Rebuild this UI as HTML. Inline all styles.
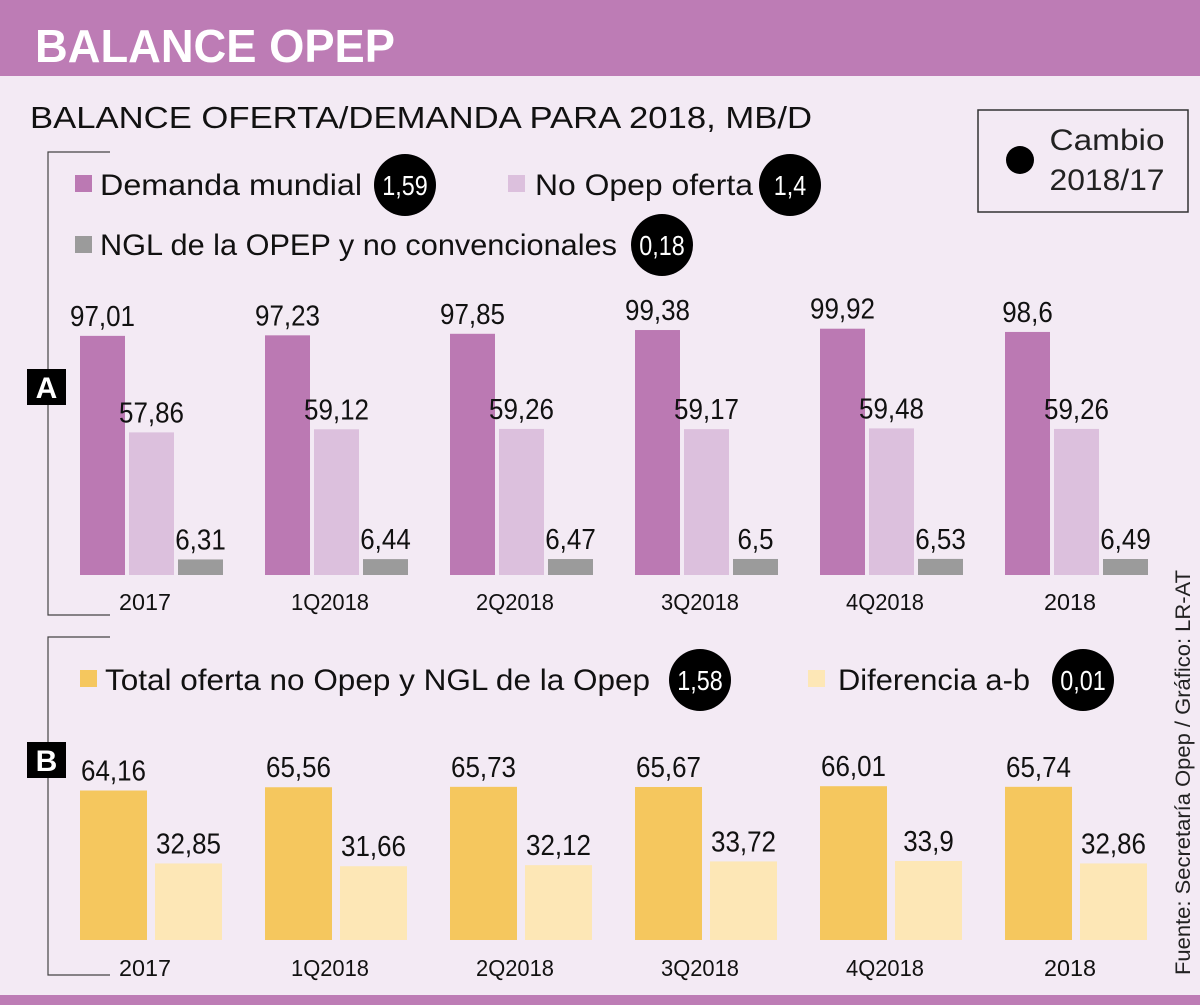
<!DOCTYPE html>
<html><head><meta charset="utf-8">
<style>
body{margin:0;width:1200px;height:1005px;background:#f3eaf4;overflow:hidden;font-family:"Liberation Sans Narrow","Liberation Sans",sans-serif;}
svg{display:block}
</style></head>
<body>
<svg width="1200" height="1005" viewBox="0 0 1200 1005" xmlns="http://www.w3.org/2000/svg" font-family="'Liberation Sans Narrow','Liberation Sans',sans-serif">
<rect x="0" y="0" width="1200" height="1005" fill="#f3eaf4"/>
<rect x="0" y="0" width="1200" height="76" fill="#bd7cb5"/>
<text x="35" y="62" font-size="46" font-weight="bold" fill="#fff" font-family="'Liberation Sans',sans-serif" textLength="360" lengthAdjust="spacingAndGlyphs">BALANCE OPEP</text>
<rect x="0" y="995" width="1200" height="10" fill="#bd7cb5"/>
<text x="30" y="128" font-size="31" fill="#111" textLength="782" lengthAdjust="spacingAndGlyphs">BALANCE OFERTA/DEMANDA PARA 2018, MB/D</text>
<g>
<rect x="978" y="110" width="210" height="102" fill="none" stroke="#333" stroke-width="1.5"/>
<circle cx="1020" cy="160" r="14" fill="#000"/>
<text x="1107" y="150" font-size="30" text-anchor="middle" fill="#222" textLength="115" lengthAdjust="spacingAndGlyphs">Cambio</text>
<text x="1107" y="190" font-size="30" text-anchor="middle" fill="#222" textLength="115" lengthAdjust="spacingAndGlyphs">2018/17</text>
</g>
<g stroke="#444" stroke-width="1.2" fill="none">
<path d="M110 152 H48 V615 H110"/>
<path d="M110 637 H48 V975 H110"/>
</g>
<g><rect x="27" y="369" width="39" height="36" fill="#000"/><text x="46.5" y="398" font-size="30" font-weight="bold" fill="#fff" text-anchor="middle" font-family="'Liberation Sans',sans-serif">A</text></g>
<g><rect x="27" y="742" width="39" height="36" fill="#000"/><text x="46.5" y="771" font-size="30" font-weight="bold" fill="#fff" text-anchor="middle" font-family="'Liberation Sans',sans-serif">B</text></g>
<text transform="translate(1190,975) rotate(-90)" font-size="21" fill="#222" textLength="405" lengthAdjust="spacingAndGlyphs">Fuente: Secretaría Opep / Gráfico: LR-AT</text>
<g id="legend"></g>
<g id="chartA"></g>
<g id="chartB"></g>
</svg>
<script>
const categories=["2017","1Q2018","2Q2018","3Q2018","4Q2018","2018"];
const demanda=[97.01,97.23,97.85,99.38,99.92,98.6];
const noOpep=[57.86,59.12,59.26,59.17,59.48,59.26];
const ngl=[6.31,6.44,6.47,6.5,6.53,6.49];
const totalOferta=[64.16,65.56,65.73,65.67,66.01,65.74];
const diferencia=[32.85,31.66,32.12,33.72,33.9,32.86];
const changes=["1,59","1,4","0,18","1,58","0,01"];
const NS="http://www.w3.org/2000/svg";
function mk(tag,attrs,parent){const e=document.createElementNS(NS,tag);for(const k in attrs)e.setAttribute(k,attrs[k]);parent.appendChild(e);return e;}
function fmt(v){return String(v).replace('.',',');}
function numW(s){let w=0;for(const ch of s)w+=(ch===','?7:14.5);return w;}
const groupX=i=>80+i*185;
const yA=v=>575-v*2.465;
const yB=v=>940-v*2.33;
const gA=document.getElementById('chartA'),gB=document.getElementById('chartB'),gL=document.getElementById('legend');
function bar(parent,name,x,w,top,base,fill,val){
  const r=mk('rect',{x:x,y:top,width:w,height:base-top,fill:fill},parent);
  
  
  const s=fmt(val);
  const t=mk('text',{x:x+w/2,y:top-10,'font-size':29,'text-anchor':'middle',fill:'#111',textLength:numW(s),lengthAdjust:'spacingAndGlyphs'},parent);
  t.textContent=s;
  
  
}
categories.forEach((c,i)=>{
  const x=groupX(i);
  bar(gA,'bar-demanda-'+c,x,45,yA(demanda[i]),575,'#bb79b3',demanda[i]);
  bar(gA,'bar-no-opep-'+c,x+49,45,yA(noOpep[i]),575,'#dcc0dd',noOpep[i]);
  bar(gA,'bar-ngl-'+c,x+98,45,yA(ngl[i]),575,'#9b9b9b',ngl[i]);
  const ta=mk('text',{x:x+65,y:610,'font-size':23,'text-anchor':'middle',fill:'#111',textLength:c.length*13,lengthAdjust:'spacingAndGlyphs'},gA);
  ta.textContent=c;
  
  
  bar(gB,'bar-total-oferta-'+c,x,67,yB(totalOferta[i]),940,'#f5c75e',totalOferta[i]);
  bar(gB,'bar-diferencia-'+c,x+75,67,yB(diferencia[i]),940,'#fde7b6',diferencia[i]);
  const tb=mk('text',{x:x+65,y:976,'font-size':23,'text-anchor':'middle',fill:'#111',textLength:c.length*13,lengthAdjust:'spacingAndGlyphs'},gB);
  tb.textContent=c;
  
  
});
const legendItems=[
 {n:'demanda',sx:75,sy:175,tx:100,ty:195,w:262,label:'Demanda mundial',fill:'#bb79b3',cx:405,cy:185,ch:changes[0]},
 {n:'no-opep',sx:508,sy:175,tx:535,ty:195,w:218,label:'No Opep oferta',fill:'#dcc0dd',cx:790,cy:185,ch:changes[1]},
 {n:'ngl',sx:75,sy:236,tx:100,ty:255,w:517,label:'NGL de la OPEP y no convencionales',fill:'#9b9b9b',cx:662,cy:245,ch:changes[2]},
 {n:'total-oferta',sx:80,sy:670,tx:105,ty:690,w:545,label:'Total oferta no Opep y NGL de la Opep',fill:'#f5c75e',cx:700,cy:680,ch:changes[3]},
 {n:'diferencia',sx:808,sy:670,tx:838,ty:690,w:192,label:'Diferencia a-b',fill:'#fde7b6',cx:1083,cy:680,ch:changes[4]}
];
legendItems.forEach(l=>{
  const g=mk('g',{},gL);
  
  
  mk('rect',{x:l.sx,y:l.sy,width:17,height:17,fill:l.fill},g);
  const t=mk('text',{x:l.tx,y:l.ty,'font-size':30,fill:'#111',textLength:l.w,lengthAdjust:'spacingAndGlyphs'},g);
  t.textContent=l.label;
  mk('circle',{cx:l.cx,cy:l.cy,r:31,fill:'#000'},g);
  const c=mk('text',{x:l.cx,y:l.cy+10,'font-size':28,'text-anchor':'middle',fill:'#fff',textLength:numW(l.ch)*0.9,lengthAdjust:'spacingAndGlyphs'},g);
  c.textContent=l.ch;
});
</script>
</body></html>
